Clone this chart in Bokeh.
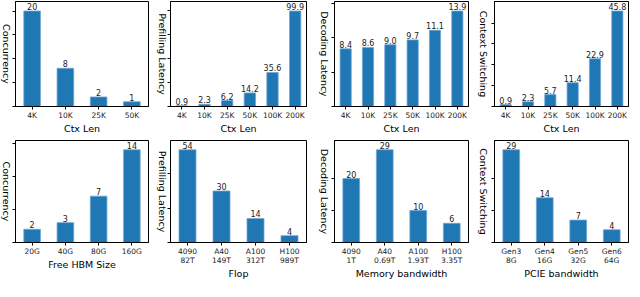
import math
from bokeh.plotting import figure
from bokeh.models import Range1d, FixedTicker
from bokeh.layouts import row, column
from bokeh.embed import file_html
from bokeh.resources import INLINE
from bokeh.core.properties import value

# ---------------- data ----------------
ctx4 = ["4K", "10K", "25K", "50K"]
ctx6 = ["4K", "10K", "25K", "50K", "100K", "200K"]
concurrency_ctx = [20, 8, 2, 1]
prefill_ctx = [0.9, 2.3, 6.2, 14.2, 35.6, 99.9]
decode_ctx = [8.4, 8.6, 9.0, 9.7, 11.1, 13.9]
switch_ctx = [0.9, 2.3, 5.7, 11.4, 22.9, 45.8]

hbm = ["20G", "40G", "80G", "160G"]
concurrency_hbm = [2, 3, 7, 14]
flop = ["4090\n82T", "A40\n149T", "A100\n312T", "H100\n989T"]
prefill_flop = [54, 30, 14, 4]
membw = ["4090\n1T", "A40\n0.69T", "A100\n1.93T", "H100\n3.35T"]
decode_membw = [20, 29, 10, 6]
pcie = ["Gen3\n8G", "Gen4\n16G", "Gen5\n32G", "Gen6\n64G"]
switch_pcie = [29, 14, 7, 4]

yticks = {
    "c1": [0, 5, 10, 15, 20],
    "c2": [0, 25, 50, 75, 100],
    "c3": [0, 5, 10, 15],
    "c4": [0, 10, 20, 30, 40],
    "c5": [0, 5, 10, 15],
    "c6": [0, 20, 40],
    "c7": [0, 10, 20],
    "c8": [0, 10, 20],
}

BAR = "#1f77b4"
EDGE = "#6ea6d6"
TXT = "#222222"
FONT = "DejaVu Sans"
LABEL_SIZE = "9.5px"

# column geometry: label strip width, panel width, panel left border,
# panel right border, label-centre position within the strip
COLS = [
    dict(lw=12, pw=142, bl=3, br=6, cx=6),
    dict(lw=13, pw=145, bl=3, br=6, cx=7.5),
    dict(lw=19, pw=141, bl=3, br=4, cx=12),
    dict(lw=19, pw=139, bl=3, br=2, cx=11),
]


def ylabel_strip(text, col, height, bt, bb):
    p = figure(width=col["lw"], height=height,
               x_range=Range1d(0, col["lw"]), y_range=Range1d(0, 1),
               x_axis_location=None, y_axis_location=None,
               output_backend="svg", toolbar_location=None,
               min_border_left=0, min_border_right=0,
               min_border_top=bt, min_border_bottom=bb)
    p.grid.visible = False
    p.outline_line_color = None
    p.text(x=[col["cx"]], y=[0.5], text=[text], angle=-math.pi / 2,
           text_align="center", text_baseline="middle",
           text_font=value(FONT), text_font_size=LABEL_SIZE,
           text_color="black")
    return p


def panel(cats, vals, labels, xlabel, ylabel, ticks, col, height, bt, bb):
    n = len(cats)
    top = max(vals) * 1.1
    p = figure(width=col["pw"], height=height,
               x_range=Range1d(-0.5, n - 0.5), y_range=Range1d(0, top),
               output_backend="svg", toolbar_location=None,
               min_border_left=col["bl"], min_border_right=col["br"],
               min_border_top=bt, min_border_bottom=bb)
    p.xgrid.visible = False
    p.ygrid.visible = False
    p.outline_line_color = "black"
    p.outline_line_width = 1
    p.outline_line_alpha = 1
    xs = list(range(n))
    p.vbar(x=xs, top=vals, width=0.5, fill_color=BAR,
           line_color=EDGE, line_width=0.8)
    p.text(x=xs, y=vals, text=labels, text_align="center",
           text_baseline="bottom", y_offset=-1, text_font=value(FONT),
           text_font_size="8px", text_color=TXT)
    xa = p.xaxis[0]
    xa.ticker = FixedTicker(ticks=xs)
    xa.major_label_overrides = {i: c for i, c in enumerate(cats)}
    xa.major_label_text_font = FONT
    xa.major_label_text_font_size = "7.5px"
    xa.major_label_text_color = TXT
    xa.major_label_text_line_height = 1.1
    xa.major_label_standoff = 1
    xa.major_tick_out = 3
    xa.major_tick_in = 0
    xa.minor_tick_out = 0
    xa.minor_tick_in = 0
    xa.axis_line_color = "black"
    xa.major_tick_line_color = "black"
    xa.axis_label = xlabel
    xa.axis_label_text_font = FONT
    xa.axis_label_text_font_size = LABEL_SIZE
    xa.axis_label_text_font_style = "normal"
    xa.axis_label_text_color = "black"
    xa.axis_label_text_line_height = 1.0
    xa.axis_label_standoff = 0

    ya = p.yaxis[0]
    ya.ticker = FixedTicker(ticks=ticks)
    ya.major_label_overrides = {t: "" for t in ticks}
    ya.major_label_standoff = 0
    ya.major_tick_out = 3
    ya.major_tick_in = 0
    ya.minor_tick_out = 0
    ya.minor_tick_in = 0
    ya.axis_line_color = "black"
    ya.major_tick_line_color = "black"
    return [ylabel_strip(ylabel, col, height, bt, bb), p]


def fmt1(vs):
    return [f"{v:.1f}" for v in vs]


def fmt0(vs):
    return [str(v) for v in vs]


H1, H2 = 136, 147

r1 = (
    panel(ctx4, concurrency_ctx, fmt0(concurrency_ctx), "Ctx Len", "Concurrency",
          yticks["c1"], COLS[0], H1, 1, 27)
    + panel(ctx6, prefill_ctx, fmt1(prefill_ctx), "Ctx Len", "Prefilling Latency",
            yticks["c2"], COLS[1], H1, 1, 27)
    + panel(ctx6, decode_ctx, fmt1(decode_ctx), "Ctx Len", "Decoding Latency",
            yticks["c3"], COLS[2], H1, 1, 27)
    + panel(ctx6, switch_ctx, fmt1(switch_ctx), "Ctx Len", "Context Switching",
            yticks["c4"], COLS[3], H1, 1, 27)
)
r2 = (
    panel(hbm, concurrency_hbm, fmt0(concurrency_hbm), "Free HBM Size", "Concurrency",
          yticks["c5"], COLS[0], H2, 4, 41)
    + panel(flop, prefill_flop, fmt0(prefill_flop), "Flop", "Prefilling Latency",
            yticks["c6"], COLS[1], H2, 0, 36)
    + panel(membw, decode_membw, fmt0(decode_membw), "Memory bandwidth", "Decoding Latency",
            yticks["c7"], COLS[2], H2, 0, 36)
    + panel(pcie, switch_pcie, fmt0(switch_pcie), "PCIE bandwidth", "Context Switching",
            yticks["c8"], COLS[3], H2, 0, 36)
)

layout = column(row(*r1), row(*r2))
open("out.html", "w").write(file_html(layout, INLINE))
